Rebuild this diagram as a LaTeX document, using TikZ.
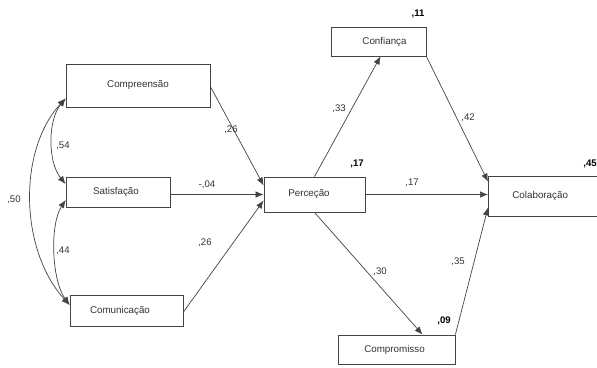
\documentclass[tikz,border=0pt]{standalone}
\usepackage{fontspec}
\setmainfont{Liberation Sans}
\usetikzlibrary{arrows.meta}
\definecolor{linec}{HTML}{444444}
\definecolor{textc}{HTML}{333333}
\tikzset{
  box/.style={draw=linec, line width=0.8pt, rectangle, inner sep=0pt, text=textc, font=\fontsize{9.8}{11}\selectfont},
  conn/.style={draw=linec, line width=0.7pt, -{Latex[length=8pt,width=6.5pt]}},
  corr/.style={draw=linec, line width=0.7pt, {Latex[length=8pt,width=6.5pt]}-{Latex[length=8pt,width=6.5pt]}},
  lbl/.style={text=textc, inner sep=0pt, font=\fontsize{9.6}{11}\selectfont},
  rsq/.style={text=black, inner sep=0pt, font=\fontsize{9.6}{11}\selectfont\bfseries}
}
\begin{document}
\begin{tikzpicture}[x=1pt,y=-1pt]
\clip (0,0) rectangle (597,367);
\fill[white] (0,0) rectangle (597,367);

\node[box, minimum width=144pt, minimum height=43pt] (comp) at (138,85.5) {Compreensão};
\node[box, minimum width=104pt, minimum height=30pt] (sat) at (118,192) {\hspace*{-4pt}Satisfação};
\node[box, minimum width=113pt, minimum height=31pt] (comm) at (126.5,310.5) {\hspace*{-13pt}Comunicação};
\node[box, minimum width=101pt, minimum height=35pt] (perc) at (314.5,194.5) {\hspace*{-11pt}Perceção};
\node[box, minimum width=95pt, minimum height=29pt] (conf) at (378.5,41.5) {\hspace*{12pt}Confiança};
\node[box, anchor=west, minimum height=40pt, text width=100pt, align=left, inner xsep=24pt] (colab) at (488,196) {Colaboração};
\node[box, minimum width=117pt, minimum height=29pt] (compr) at (396.5,349.5) {\hspace*{-4pt}Compromisso};

% paths into Perceção
\draw[conn] ([yshift=-1pt]comp.east) -- ([yshift=9pt]perc.west);
\draw[conn] (perc.west -| sat.east) -- (perc.west);
\draw[conn] ([yshift=-1.5pt]comm.east) -- ([yshift=-6pt]perc.west);

% paths out of Perceção
\draw[conn] (perc.north) -- ([xshift=2pt]conf.south);
\draw[conn] (perc.east) -- (colab.west |- perc.east);
\draw[conn] (perc.south) -- ([xshift=26pt]compr.north);
\draw[conn] (conf.south east) -- ([yshift=-6pt]colab.north west);
\draw[conn] (compr.north east) -- ([yshift=9pt]colab.south west);

% correlations
\coordinate (cA) at ([yshift=9pt]comp.south west);
\coordinate (sA) at ([yshift=8pt]sat.west);
\coordinate (sB) at ([yshift=-8pt]sat.west);
\coordinate (mA) at ([yshift=5.5pt]comm.west);
\draw[corr] (cA) .. controls +(-18,22) and +(-18,-22) .. (sA);
\draw[corr] (sB) .. controls +(-16,25) and +(-18,-25) .. (mA);
\draw[corr] (cA) .. controls +(-48,52) and +(-50,-55) .. (mA);

% coefficients
\node[lbl] (l54) at (63,146) {,54};
\node[lbl] (l44) at (63,251) {,44};
\node[lbl] (l50) at (14,200) {,50};
\node[lbl] (l26a) at (231,130) {,26};
\node[lbl] (l04) at (207,185) {-,04};
\node[lbl] (l26b) at (205,243) {,26};
\node[lbl] (l33) at (339,109) {,33};
\node[lbl] (l42) at (468,118) {,42};
\node[lbl] (l17) at (412,183) {,17};
\node[lbl] (l30) at (380,272) {,30};
\node[lbl] (l35) at (458,262) {,35};

% squared multiple correlations
\node[rsq] (r11) at (418,14) {,11};
\node[rsq] (r17) at (357,164) {,17};
\node[rsq] (r45) at (590,164) {,45};
\node[rsq] (r09) at (444,321) {,09};
\end{tikzpicture}
\end{document}
